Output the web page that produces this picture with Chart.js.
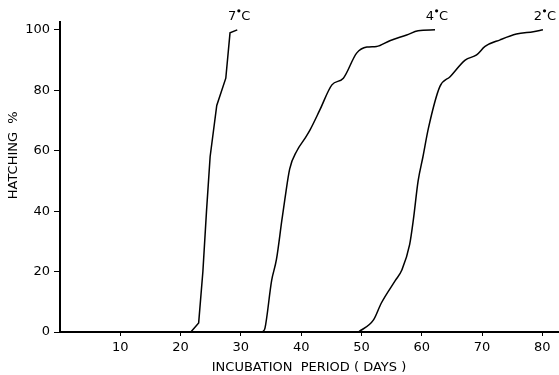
<!DOCTYPE html>
<html>
<head>
<meta charset="utf-8">
<script src="https://cdn.jsdelivr.net/npm/chart.js@4"></script>
<style>
  html, body { margin: 0; padding: 0; background: #fff; }
  #wrap { width: 559px; height: 375px; }
</style>
</head>
<body>
<div id="wrap"><canvas id="hatch"></canvas></div>
<script>
// days vs cumulative hatching %
const days7 = [21.7, 23.0, 23.7, 24.3, 24.9, 26.0, 27.5, 28.2, 29.4];
const pct7  = [0, 3, 20, 40, 58, 75, 84, 99, 100];

const days4 = [33.6, 34.0, 35.1, 35.9, 36.8, 37.3, 38.1, 39.3, 40.6, 41.5, 43.1, 45.1, 47.0, 49.2, 50.9, 52.5, 54.7, 57.5, 59.4, 62.2];
const pct4  = [0, 1.3, 17, 24, 37, 44, 54, 60, 64, 67, 73.5, 81.8, 84, 92.3, 94.3, 94.5, 96.4, 98.3, 99.7, 100];

const days2 = [49.5, 52.0, 53.3, 55.6, 56.7, 58.0, 58.6, 59.4, 60.2, 61.1, 63.0, 64.7, 67.2, 69.1, 70.5, 73.0, 75.7, 78.5, 80.1];
const pct2  = [0, 4, 9.6, 17, 20.5, 29, 37, 50, 58, 67.4, 81.2, 84.5, 90, 91.7, 94.5, 96.7, 98.6, 99.4, 100];

const temps = ["7", "4", "2"];
const xTicks = [10, 20, 30, 40, 50, 60, 70, 80];
const yTicks = [0, 20, 40, 60, 80, 100];

const FONT = "'DejaVu Sans', sans-serif";

function pts(xs, ys) {
  return xs.map((x, i) => ({ x: x, y: ys[i] }));
}

const series = [pts(days7, pct7), pts(days4, pct4), pts(days2, pct2)];

// temperature labels above the last point of each curve + rotated y title
const labels = {
  id: "labels",
  afterDraw(chart) {
    const ctx = chart.ctx;
    ctx.save();
    ctx.fillStyle = "#000";
    ctx.textBaseline = "alphabetic";
    chart.data.datasets.forEach((ds, i) => {
      const p = chart.getDatasetMeta(i).data[ds.data.length - 1];
      ctx.font = "13px " + FONT;
      const a = temps[i], c = "C";
      const wa = ctx.measureText(a).width, wc = ctx.measureText(c).width;
      const gap = 5;
      let x = p.x - (wa + gap + wc) / 2 + 2;
      const y = p.y - 10;
      ctx.textAlign = "left";
      ctx.fillText(a, x, y);
      ctx.beginPath();
      ctx.arc(x + wa + gap / 2, y - 9, 1.6, 0, Math.PI * 2);
      ctx.fill();
      ctx.fillText(c, x + wa + gap, y);
    });
    const ca = chart.chartArea;
    ctx.translate(14, ca.top + (ca.bottom - ca.top) * 0.43);
    ctx.rotate(-Math.PI / 2);
    ctx.textAlign = "center";
    ctx.textBaseline = "middle";
    ctx.font = "13px " + FONT;
    ctx.fillText("HATCHING  %", 0, 0);
    ctx.restore();
  }
};

new Chart(document.getElementById("hatch"), {
  type: "scatter",
  data: {
    datasets: series.map((d, i) => ({
      label: temps[i] + "°C",
      data: d,
      showLine: true,
      borderColor: "#000",
      borderWidth: 1.5,
      pointRadius: 0,
      // 7°C is drawn as straight segments, the others are smooth
      cubicInterpolationMode: i === 0 ? "default" : "monotone",
      tension: 0,
      fill: false
    }))
  },
  options: {
    responsive: true,
    maintainAspectRatio: false,
    animation: false,
    layout: { padding: { top: 22, right: 1 } },
    plugins: { legend: { display: false }, tooltip: { enabled: false } },
    scales: {
      x: {
        type: "linear",
        min: 0,
        max: 82.6,
        afterFit(s) { s.height = 43; },
        afterBuildTicks(s) { s.ticks = xTicks.map(v => ({ value: v })); },
        grid: { drawOnChartArea: false, drawTicks: true, tickLength: 4, color: "#000", lineWidth: 1 },
        border: { display: true, color: "#000", width: 2 },
        ticks: { color: "#000", font: { family: FONT, size: 13 }, padding: 4, maxRotation: 0 },
        title: {
          display: true,
          text: "INCUBATION  PERIOD ( DAYS )",
          color: "#000",
          font: { family: FONT, size: 13 },
          padding: { top: 0, bottom: 0 }
        }
      },
      y: {
        type: "linear",
        min: 0,
        max: 102.6,
        afterFit(s) { s.width = 60; },
        afterBuildTicks(s) { s.ticks = yTicks.map(v => ({ value: v })); },
        grid: { drawOnChartArea: false, drawTicks: true, tickLength: 6, color: "#000", lineWidth: 1 },
        border: { display: true, color: "#000", width: 2 },
        ticks: { color: "#000", font: { family: FONT, size: 13 }, padding: 4 }
      }
    }
  },
  plugins: [labels]
});
</script>
</body>
</html>
